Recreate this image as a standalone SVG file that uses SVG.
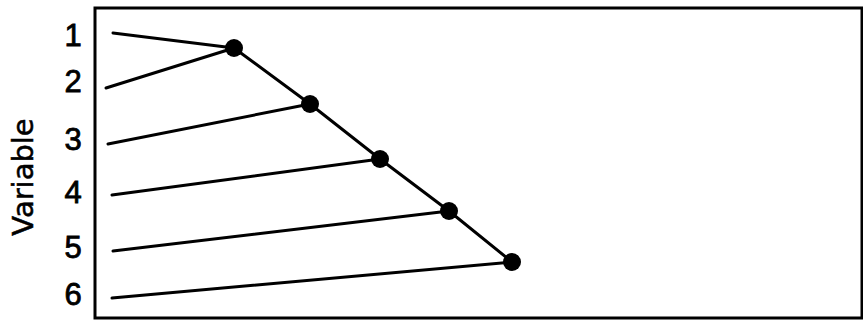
<svg xmlns="http://www.w3.org/2000/svg" width="863" height="321" viewBox="0 0 863 321">
<style>
.lbl{font-family:"Liberation Sans","DejaVu Sans",sans-serif;font-size:31px;fill:#000;stroke:#000;stroke-width:0.8;text-anchor:middle}
.ax{font-family:"DejaVu Sans","Liberation Sans",sans-serif;font-size:29px;fill:#000;stroke:#000;stroke-width:0.5;text-anchor:middle}
.ln{stroke:#000;stroke-width:3;fill:none;stroke-linecap:round}
.dot{fill:#000}
</style>
<rect id="frame" x="95" y="8" width="767" height="310" fill="none" stroke="#000" stroke-width="3"/>
<text class="ax" transform="translate(33,177) rotate(-90)">Variable</text>
<g id="labels">
<text class="lbl" x="73" y="46">1</text>
<text class="lbl" x="73" y="92">2</text>
<text class="lbl" x="73" y="150">3</text>
<text class="lbl" x="73" y="203">4</text>
<text class="lbl" x="73" y="258">5</text>
<text class="lbl" x="73" y="305">6</text>
</g>
<g id="connectors">
<line class="ln" x1="113" y1="33" x2="234" y2="48"/>
<line class="ln" x1="106" y1="88" x2="234" y2="48"/>
<line class="ln" x1="108" y1="144" x2="310" y2="104"/>
<line class="ln" x1="112" y1="195" x2="380" y2="159"/>
<line class="ln" x1="113" y1="251" x2="449" y2="211"/>
<line class="ln" x1="112" y1="298" x2="512" y2="262"/>
<polyline class="ln" points="234,48 310,104 380,159 449,211 512,262"/>
</g>
<g id="n1"><circle class="dot" cx="234" cy="48" r="9"/></g>
<g id="n2"><circle class="dot" cx="310" cy="104" r="9"/></g>
<g id="n3"><circle class="dot" cx="380" cy="159" r="9"/></g>
<g id="n4"><circle class="dot" cx="449" cy="211" r="9"/></g>
<g id="n5"><circle class="dot" cx="512" cy="262" r="9"/></g>
</svg>
